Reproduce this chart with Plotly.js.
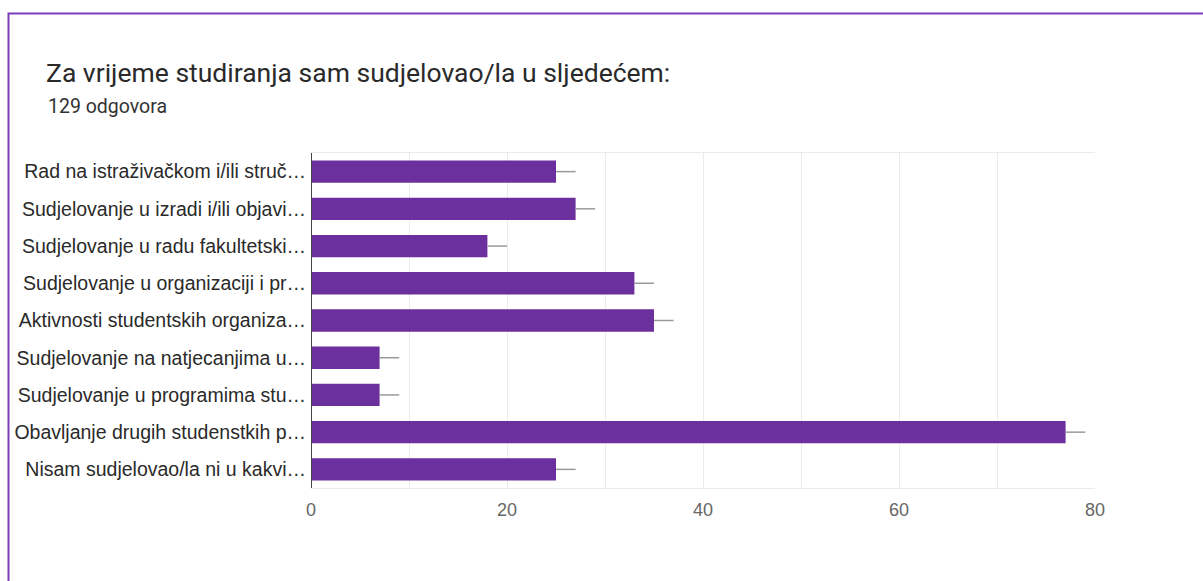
<!DOCTYPE html>
<html>
<head>
<meta charset="utf-8">
<script src="https://cdn.plot.ly/plotly-3.0.1.min.js"></script>
<style>
html,body{margin:0;padding:0;background:#fff;}
#chart{width:1203px;height:581px;}
</style>
</head>
<body>
<div id="chart"></div>
<script>
const categories = [
  "Rad na istraživačkom i/ili struč…",
  "Sudjelovanje u izradi i/ili objavi…",
  "Sudjelovanje u radu fakultetski…",
  "Sudjelovanje u organizaciji i pr…",
  "Aktivnosti studentskih organiza…",
  "Sudjelovanje na natjecanjima u…",
  "Sudjelovanje u programima stu…",
  "Obavljanje drugih studenstkih p…",
  "Nisam sudjelovao/la ni u kakvi…"
];
const counts = [25, 27, 18, 33, 35, 7, 7, 77, 25];
const intervalPlus = [2, 2, 2, 2, 2, 2, 2, 2, 2];
const intervalMinus = [0, 0, 0, 0, 0, 0, 0, 0, 0];
const xTicks = [0, 20, 40, 60, 80];

const W = 1203, H = 581;
const L = 311, R = 1095, T = 153, B = 488;
const px = x => (x - L) / (R - L);
const py = y => (B - y) / (B - T);

const trace = {
  type: 'bar',
  orientation: 'h',
  y: categories,
  x: counts,
  marker: {color: '#6c2f9e'},
  error_x: {
    type: 'data', symmetric: false,
    array: intervalPlus, arrayminus: intervalMinus,
    color: '#999999', thickness: 1.5, width: 0
  },
  hoverinfo: 'x+y'
};

const layout = {
  width: W, height: H,
  margin: {l: L, r: W - R, t: T, b: H - B, pad: 0},
  paper_bgcolor: '#ffffff',
  plot_bgcolor: '#ffffff',
  showlegend: false,
  bargap: 0.4,
  title: {
    text: 'Za vrijeme studiranja sam sudjelovao/la u sljedećem:',
    font: {family: 'Roboto, sans-serif', size: 26.5, color: '#2a2a2a'},
    xref: 'container', yref: 'container',
    x: 46 / W, xanchor: 'left',
    y: 1 - 73 / H, yanchor: 'middle'
  },
  annotations: [{
    text: '129 odgovora',
    xref: 'paper', yref: 'paper',
    x: px(46), y: py(106),
    xanchor: 'left', yanchor: 'middle',
    showarrow: false,
    font: {family: 'Roboto, sans-serif', size: 19.5, color: '#333333'}
  }],
  shapes: [{
    type: 'rect', xref: 'paper', yref: 'paper',
    x0: px(8.5), x1: px(1215), y0: py(600), y1: py(13.5),
    line: {color: '#7d3db8', width: 2},
    fillcolor: 'rgba(0,0,0,0)',
    layer: 'below'
  }],
  xaxis: {
    range: [0, 80],
    tickvals: xTicks,
    ticktext: xTicks.map(String),
    showgrid: true,
    gridcolor: '#ebebeb',
    gridwidth: 1,
    zeroline: false,
    showline: true,
    mirror: true,
    linecolor: '#ebebeb',
    linewidth: 1,
    ticks: '',
    ticklabelstandoff: 5,
    tickfont: {family: 'Liberation Sans, Arial, sans-serif', size: 18, color: '#666666'},
    fixedrange: true
  },
  yaxis: {
    autorange: 'reversed',
    type: 'category',
    showgrid: false,
    zeroline: false,
    showline: false,
    ticks: '',
    ticklabelstandoff: 4,
    tickfont: {family: 'Liberation Sans, Arial, sans-serif', size: 19.5, color: '#2a2a2a'},
    fixedrange: true
  }
};

// minor gridlines at every 10
layout.xaxis.minor = {dtick: 10, showgrid: true, gridcolor: '#ebebeb', gridwidth: 1};

// dark baseline at zero
layout.shapes.push({
  type: 'line', xref: 'x', yref: 'paper',
  x0: 0, x1: 0, y0: 0, y1: 1,
  line: {color: '#444444', width: 2},
  layer: 'above'
});

Plotly.newPlot('chart', [trace], layout, {displayModeBar: false, staticPlot: true});
</script>
</body>
</html>
